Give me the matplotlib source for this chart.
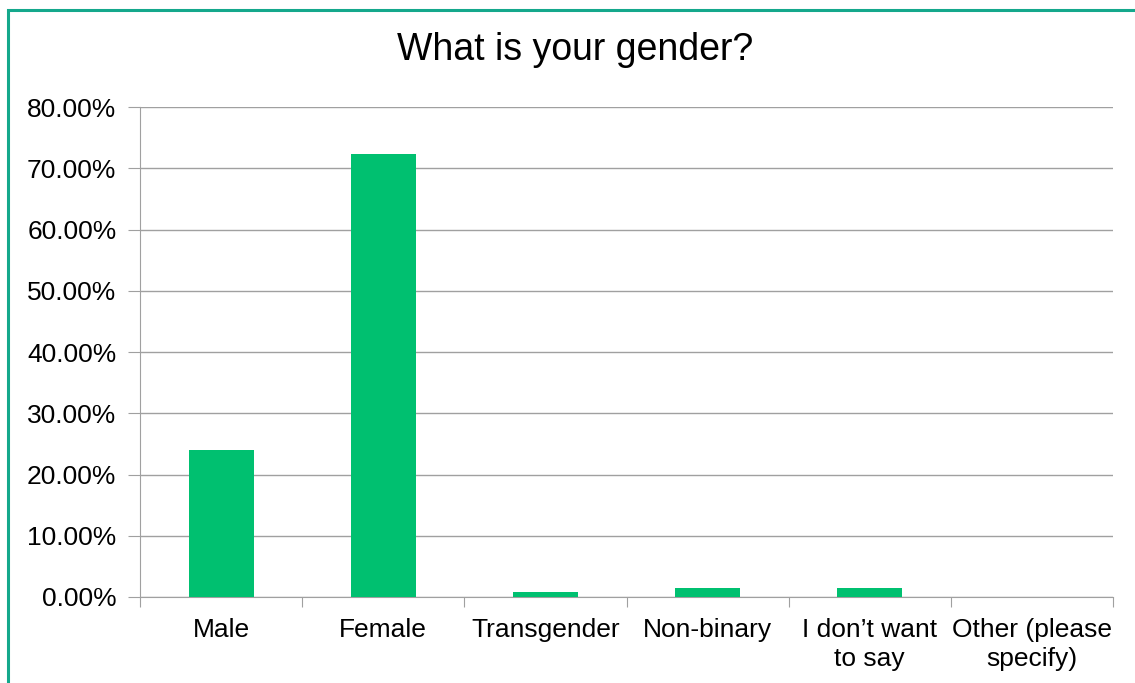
import matplotlib
matplotlib.use("Agg")
import matplotlib.pyplot as plt
from matplotlib.ticker import FuncFormatter
from matplotlib.patches import Rectangle

categories = ["Male", "Female", "Transgender", "Non-binary", "I don\u2019t want\nto say", "Other (please\nspecify)"]
values = [24.0, 72.3, 0.77, 1.52, 1.50, 0.0]
yticks = [0, 10, 20, 30, 40, 50, 60, 70, 80]

plt.rcParams['font.family'] = ['Liberation Sans', 'DejaVu Sans']

fig = plt.figure(figsize=(11.35, 6.83), dpi=100)
fig.patch.set_facecolor('white')
fig.patches.append(Rectangle((8/1135, -0.05), 1.1, (683-10)/683 + 0.05, transform=fig.transFigure,
                             fill=False, edgecolor='#14a88c', linewidth=2.2))

ax = fig.add_axes([140/1135, 1-597/683, (1113-140)/1135, (597-107)/683])
x = list(range(len(categories)))
ax.bar(x, values, width=0.4, color='#00c070', zorder=3)
ax.set_xlim(-0.5, len(categories)-0.5)
ax.set_ylim(0, 80)
ax.set_yticks(yticks)
ax.yaxis.set_major_formatter(FuncFormatter(lambda v, p: f"{v:.2f}%"))
ax.grid(axis='y', color='#a0a0a0', linewidth=1.0, zorder=0)
for s in ['top', 'right']:
    ax.spines[s].set_visible(False)
ax.spines['left'].set_color('#a0a0a0')
ax.spines['bottom'].set_color('#a0a0a0')
ax.tick_params(axis='y', length=9, color='#a0a0a0', labelsize=19, pad=8)
ax.set_xticks([i + 0.5 for i in range(-1, len(categories))], minor=False)
ax.set_xticklabels([])
ax.tick_params(axis='x', length=7, color='#a0a0a0')
ax.set_xticks(x, minor=True)
ax.set_xticklabels(categories, minor=True, fontsize=19, linespacing=1.25)
ax.tick_params(axis='x', which='minor', length=0, pad=15)

fig.text(575/1135, 1-50/683, "What is your gender?", ha='center', va='center', fontsize=27)

fig.savefig("out.png", dpi=100)
